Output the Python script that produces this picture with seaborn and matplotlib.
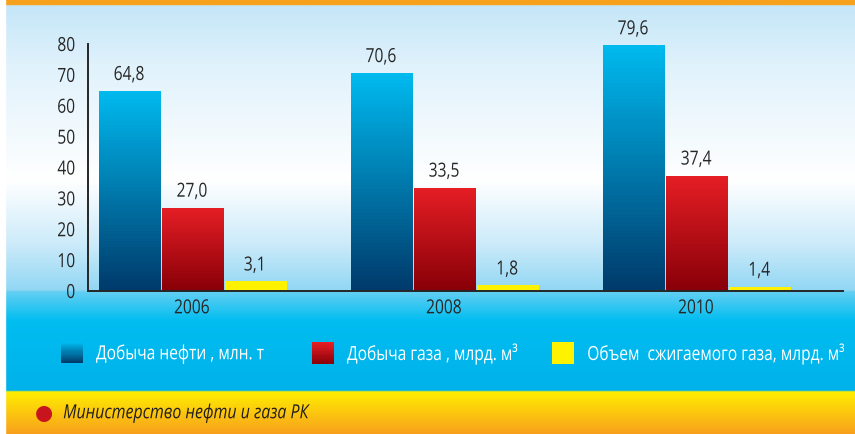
"""
Oil / gas production chart (RK), 2006-2010.
"""
import numpy as np
import pandas as pd
import matplotlib
matplotlib.use("Agg")
import matplotlib.pyplot as plt
import matplotlib.patches as mpatches
from matplotlib.colors import LinearSegmentedColormap
from matplotlib.legend_handler import HandlerBase
from matplotlib.patheffects import AbstractPathEffect
from matplotlib.transforms import Affine2D, Bbox
import seaborn as sns

# ── Data ───────────────────────────────────────────────────────────────────────
years   = ["2006", "2008", "2010"]
oil     = [64.8, 70.6, 79.6]
gas     = [27.0, 33.5, 37.4]
flare   = [3.1, 1.8, 1.4]
series  = ["Добыча нефти , млн. т",
           "Добыча газа , млрд. м³",
           "Объем  сжигаемого газа, млрд. м³"]
source  = "Министерство нефти и газа РК"

# top / bottom gradient colours per series
GRAD = {
    series[0]: ("#00b9ef", "#003b6b"),
    series[1]: ("#e61e25", "#890008"),
    series[2]: ("#fff200", "#fff200"),
}

sns.set_style("white")
plt.rcParams["font.family"] = ["Open Sans", "DejaVu Sans"]
DARK = "#262626"
FS = 14


class Squeeze(AbstractPathEffect):
    """Horizontally condense text around an anchor (0 left, .5 centre, 1 right)."""
    def __init__(self, sx=0.8, anchor=0.0):
        super().__init__()
        self.sx, self.anchor = sx, anchor

    def draw_path(self, renderer, gc, tpath, affine, rgbFace=None):
        ext = tpath.get_extents()
        shift = (1 - self.sx) * (ext.x0 + ext.width * self.anchor)
        t = Affine2D().scale(self.sx, 1).translate(shift, 0) + affine
        renderer.draw_path(gc, tpath, t, rgbFace)


def condense(t, sx=0.8, anchor=0.0):
    # condensed look (the original uses a narrow font) + matching extent
    t.set_path_effects([Squeeze(sx, anchor)])
    orig = t.get_window_extent

    def extent(renderer=None, dpi=None):
        bb = orig(renderer, dpi)
        a = bb.x0 + bb.width * anchor
        return Bbox.from_extents(a - (a - bb.x0) * sx, bb.y0,
                                 a + (bb.x1 - a) * sx, bb.y1)
    t.get_window_extent = extent


df = pd.DataFrame({
    "year":  years * 3,
    "value": oil + gas + flare,
    "kind":  [series[0]] * 3 + [series[1]] * 3 + [series[2]] * 3,
})

fig = plt.figure(figsize=(8.55, 4.34), dpi=100)

# ── Background (gradient bands) ───────────────────────────────────────────────
bg = fig.add_axes([0, 0, 1, 1], zorder=-10)
stops = [(0.000, "#f7a11c"), (0.011, "#f7a11c"), (0.012, "#c4e6f8"),
         (0.150, "#e0f2fc"), (0.415, "#ffffff"), (0.560, "#cdebfa"),
         (0.668, "#92d7f4"), (0.673, "#62cff3"), (0.740, "#00bdf0"),
         (0.900, "#00b2ea"), (0.903, "#ffee00"), (1.000, "#f8a01d")]
cmap_bg = LinearSegmentedColormap.from_list("bg", stops, N=1024)
bg.imshow(np.linspace(0, 1, 1024)[:, None], cmap=cmap_bg, aspect="auto",
          extent=[0, 1, 1, 0])
bg.add_patch(mpatches.Rectangle((0, 0), 5 / 855, 1, color="white", zorder=3))
bg.set_xlim(0, 1); bg.set_ylim(1, 0); bg.axis("off")

# ── Bars ──────────────────────────────────────────────────────────────────────
ax = fig.add_axes([88 / 855, 143 / 434, 755 / 855, 247 / 434])
ax.patch.set_alpha(0)
sns.barplot(data=df, x="year", y="value", hue="kind", hue_order=series,
            width=0.75, gap=0.03, ax=ax, legend=False, saturation=1,
            palette=[GRAD[s][0] for s in series])

for cont, s in zip(ax.containers, series):
    top, bot = GRAD[s]
    cm = LinearSegmentedColormap.from_list(s, [bot, top])
    for p in cont.patches:
        x0, y0, w, h = p.get_x(), p.get_y(), p.get_width(), p.get_height()
        p.set_facecolor("none"); p.set_edgecolor("none")
        im = ax.imshow(np.linspace(0, 1, 64)[:, None], cmap=cm, aspect="auto",
                       origin="lower", extent=[x0, x0 + w, y0, y0 + h], zorder=2)
        im.set_clip_path(p)
    lbls = ax.bar_label(cont, labels=[f"{v:.1f}".replace(".", ",")
                                      for v in cont.datavalues],
                        padding=5, fontsize=FS, color=DARK)
    for t in lbls:
        condense(t, 0.8, 0.5)

ax.set_xlim(-0.413, 2.583)
ax.set_ylim(0, 80)
ax.set_yticks(range(0, 81, 10))
ax.set_xlabel(""); ax.set_ylabel("")
for side in ("top", "right"):
    ax.spines[side].set_visible(False)
for side in ("left", "bottom"):
    ax.spines[side].set_color(DARK)
    ax.spines[side].set_linewidth(1.4)
    ax.spines[side].set_zorder(3)
ax.tick_params(axis="y", direction="in", length=13, width=1.4, color=DARK,
               labelsize=FS, labelcolor=DARK, pad=9)
ax.tick_params(axis="x", length=0, labelsize=FS, labelcolor=DARK, pad=6)
for t in ax.get_yticklabels():
    condense(t, 0.8, 1.0)
for t in ax.get_xticklabels():
    condense(t, 0.8, 0.5)


# ── Legend with gradient swatches ─────────────────────────────────────────────
class GradHandler(HandlerBase):
    def create_artists(self, legend, orig, xd, yd, w, h, fs, trans):
        top, bot = GRAD[orig.get_label()]
        cm = LinearSegmentedColormap.from_list("h", [bot, top])
        n = 20
        side = 22 * 72 / fig.dpi
        arts = []
        for i in range(n):
            r = mpatches.Rectangle((xd, yd + h / 2 - side / 2 + side * i / n),
                                   side, side / n + 0.3,
                                   facecolor=cm(i / (n - 1)), edgecolor="none",
                                   transform=trans)
            arts.append(r)
        return arts


for s, x_left in zip(series, [61, 312, 552]):
    leg = fig.legend(handles=[mpatches.Patch(label=s)], frameon=False,
                     loc="center left", bbox_to_anchor=(x_left / 855, 1 - 354 / 434),
                     handler_map={mpatches.Patch: GradHandler()},
                     fontsize=FS, labelcolor="white", handlelength=1.15,
                     handletextpad=0.65, borderpad=0, borderaxespad=0)
    for t in leg.get_texts():
        condense(t, 0.8, 0.0)

# ── Source footer ─────────────────────────────────────────────────────────────
fig.text(44 / 855, 1 - 413 / 434, "●", color="#c8141c", fontsize=15,
         ha="center", va="center", family="DejaVu Sans")
src = fig.text(63 / 855, 1 - 413 / 434, source, color="#231f20", fontsize=FS,
               style="italic", ha="left", va="center")
condense(src, 0.82, 0.0)

fig.savefig("out.png", dpi=100)
plt.close(fig)
